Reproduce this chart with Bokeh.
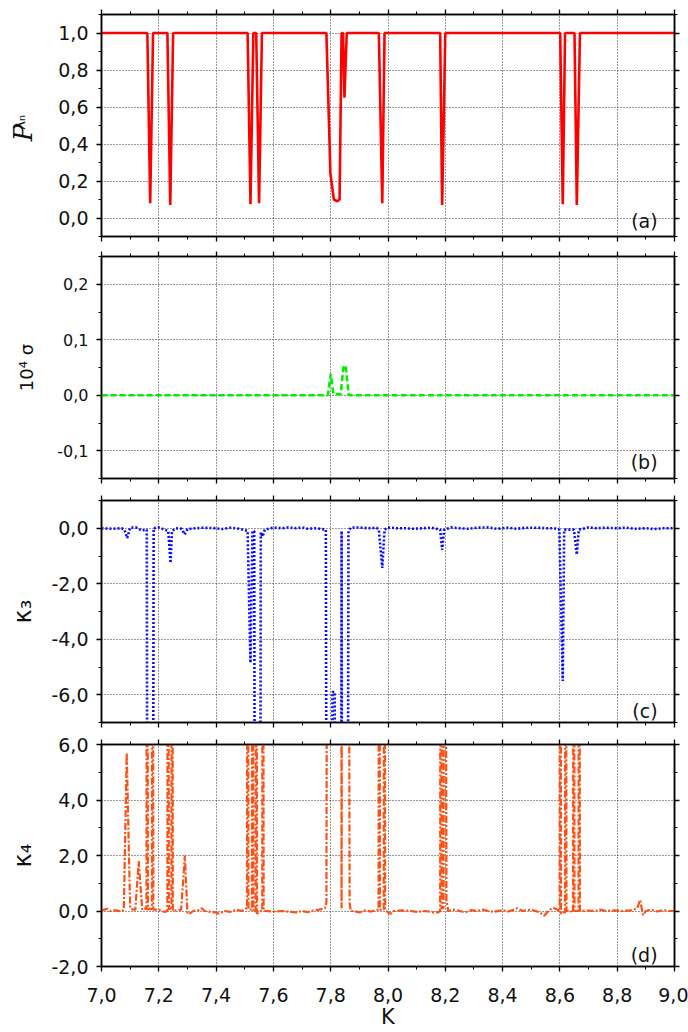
import numpy as np
from bokeh.plotting import figure
from bokeh.layouts import column
from bokeh.models import Range1d, LinearAxis, FixedTicker, CustomJSTickFormatter, Label
from bokeh.embed import file_html
from bokeh.resources import INLINE

# ---------------- data ----------------
x_major = [7.0, 7.2, 7.4, 7.6, 7.8, 8.0, 8.2, 8.4, 8.6, 8.8, 9.0]
x_minor = [7.1, 7.3, 7.5, 7.7, 7.9, 8.1, 8.3, 8.5, 8.7, 8.9]

# (a) participation P_lambda_n
k_p = [7.00, 7.16, 7.17, 7.18, 7.23, 7.24, 7.25, 7.51, 7.52, 7.53, 7.54, 7.55, 7.56,
       7.785, 7.799, 7.811, 7.823, 7.831, 7.838, 7.843, 7.848, 7.856,
       7.968, 7.98, 7.988, 8.182, 8.189, 8.20, 8.601, 8.61, 8.618, 8.651, 8.659, 8.67, 9.00]
p_val = [1.0, 1.0, 0.08, 1.0, 1.0, 0.07, 1.0, 1.0, 0.075, 1.0, 1.0, 0.08, 1.0,
         1.0, 0.24, 0.10, 0.09, 0.10, 1.0, 1.0, 0.65, 1.0,
         1.0, 0.08, 1.0, 1.0, 0.07, 1.0, 1.0, 0.075, 1.0, 1.0, 0.07, 1.0, 1.0]

# (b) 10^4 sigma
k_s = [7.00, 7.79, 7.80, 7.81, 7.835, 7.845, 7.852, 7.863, 9.00]
s_val = [0.0, 0.0, 0.038, 0.002, 0.002, 0.053, 0.053, 0.0, 0.0]

# (c) kappa_3
k_k3 = [7.00, 7.04, 7.07, 7.08, 7.09, 7.10, 7.12, 7.14, 7.158, 7.163, 7.177, 7.182,
        7.20, 7.233, 7.241, 7.246, 7.26, 7.28, 7.29, 7.30, 7.33, 7.35, 7.40, 7.42,
        7.45, 7.48, 7.51, 7.52, 7.527, 7.533, 7.538, 7.552, 7.556, 7.562, 7.57,
        7.60, 7.63, 7.65, 7.68, 7.70, 7.72, 7.75, 7.783, 7.789, 7.805, 7.806, 7.814,
        7.816, 7.835, 7.838, 7.842, 7.857, 7.862, 7.87, 7.90, 7.93, 7.96, 7.968,
        7.98, 7.988, 8.00, 8.03, 8.06, 8.09, 8.12, 8.15, 8.182, 8.189, 8.196, 8.22,
        8.25, 8.28, 8.31, 8.35, 8.38, 8.42, 8.45, 8.48, 8.52, 8.55, 8.58, 8.598,
        8.61, 8.615, 8.649, 8.659, 8.666, 8.70, 8.73, 8.76, 8.80, 8.83, 8.86, 8.90,
        8.93, 8.96, 9.00]
k3_val = [0.0, -0.02, 0.0, -0.05, -0.35, 0.02, 0.03, -0.08, -0.05, -30.0, -30.0, 0.0,
          0.03, -0.1, -1.25, -0.1, 0.0, -0.02, -0.22, -0.03, 0.0, 0.02, 0.0, -0.03,
          0.02, -0.02, -0.1, -4.85, -0.1, -0.1, -30.0, -30.0, -0.15, -0.3, -0.05,
          0.02, 0.0, 0.03, 0.0, 0.03, -0.02, 0.0, -0.05, -30.0, -30.0, -5.9, -5.9,
          -30.0, -30.0, -0.1, -30.0, -30.0, -0.1, 0.02, 0.03, 0.0, 0.02, -0.05,
          -1.43, -0.05, 0.03, 0.0, 0.0, -0.02, 0.0, 0.02, -0.05, -0.78, -0.05, 0.03,
          0.0, -0.02, 0.02, 0.03, -0.02, 0.02, -0.02, 0.02, 0.02, 0.0, 0.0, -0.05,
          -5.5, -0.05, -0.05, -0.95, -0.05, 0.03, 0.0, 0.02, 0.0, 0.02, -0.02, 0.0,
          -0.03, 0.0, 0.0]

# (d) kappa_4
k_k4 = [7.00, 7.01, 7.02, 7.03, 7.05, 7.07,
        7.078, 7.088, 7.10, 7.11,
        7.118, 7.13, 7.142, 7.15,
        7.157, 7.159, 7.162, 7.17, 7.176, 7.178, 7.181,
        7.20, 7.21, 7.22,
        7.230, 7.232, 7.235, 7.24, 7.244, 7.246, 7.249,
        7.26, 7.278, 7.291, 7.30, 7.31, 7.32,
        7.34, 7.35, 7.36, 7.38, 7.40, 7.41, 7.43, 7.45, 7.47, 7.49, 7.50,
        7.508, 7.510, 7.513, 7.520, 7.525, 7.527, 7.530, 7.535, 7.538, 7.540, 7.543,
        7.555, 7.561, 7.563, 7.566,
        7.57, 7.60, 7.63, 7.66, 7.68, 7.70, 7.72, 7.74, 7.76, 7.78,
        7.785, 7.79, 7.835, 7.838, 7.842, 7.86, 7.866, 7.87,
        7.88, 7.90, 7.92, 7.94, 7.96,
        7.967, 7.969, 7.972, 7.978, 7.985, 7.987, 7.990,
        8.00, 8.01, 8.02, 8.05, 8.08, 8.10, 8.13, 8.16, 8.175,
        8.182, 8.184, 8.187, 8.191, 8.194, 8.196, 8.199, 8.204, 8.21,
        8.23, 8.25, 8.27, 8.29, 8.31, 8.33, 8.35, 8.37, 8.40, 8.42, 8.44, 8.45,
        8.47, 8.50, 8.53, 8.545, 8.56, 8.575, 8.59,
        8.599, 8.601, 8.604, 8.61, 8.618, 8.620, 8.623, 8.635, 8.646, 8.648, 8.651,
        8.658, 8.665, 8.667, 8.670,
        8.69, 8.72, 8.74, 8.76, 8.79, 8.82, 8.85, 8.87, 8.88, 8.89, 8.90, 8.92,
        8.94, 8.96, 8.98, 9.00]
k4_val = [0.0, 0.05, 0.08, 0.0, 0.02, -0.02,
          0.05, 5.7, 0.1, 0.05,
          0.05, 1.8, 0.05, 0.1,
          0.05, 30.0, 0.05, 0.08, 0.05, 30.0, 0.05,
          0.05, 0.0, -0.03,
          0.0, 30.0, 0.05, 0.08, 0.05, 30.0, 0.0,
          0.02, 0.05, 2.0, -0.1, -0.08, 0.0,
          0.03, 0.1, 0.0, -0.03, -0.05, -0.1, 0.0, -0.03, 0.05, 0.0, 0.08,
          0.1, 30.0, 0.05, 0.05, 0.05, 30.0, 0.0, -0.05, 0.0, 30.0, -0.1,
          0.0, 0.0, 30.0, 0.0,
          0.0, -0.02, 0.0, -0.03, -0.05, 0.0, -0.04, 0.02, 0.05, 0.1,
          0.3, 30.0, 30.0, 0.1, 30.0, 30.0, 0.3, 0.0,
          0.0, -0.05, 0.02, -0.02, 0.03,
          0.05, 30.0, 0.05, 0.05, 0.05, 30.0, 0.05,
          -0.05, -0.1, 0.0, 0.02, 0.0, -0.03, 0.0, -0.05, -0.05,
          0.0, 30.0, 0.1, 0.1, 0.1, 30.0, 30.0, 0.4, 0.0,
          0.05, 0.0, -0.05, 0.03, 0.0, 0.05, 0.0, -0.03, 0.03, -0.02, 0.05, 0.1,
          0.0, 0.05, -0.05, -0.17, 0.0, 0.12, 0.05,
          0.0, 30.0, -0.1, -0.05, -0.05, 30.0, 0.0, 0.02, -0.05, 30.0, 0.0,
          0.0, 0.0, 30.0, 0.0,
          0.02, 0.0, 0.05, 0.0, 0.02, 0.0, 0.02, 0.1, 0.4, -0.15, 0.0, 0.05,
          -0.02, 0.03, 0.0, 0.0]

FONT = "DejaVu Sans"
FRAME_W = 573
FRAME_H = 222
BORDER_L = 101
BORDER_R = 14
TXT = "#111111"

fmt_code = """
if (Math.abs(tick) < 1e-9) { return "0,0"; }
return tick.toFixed(1).replace('.', ',');
"""


def style_axis(ax, ticks, minor, labels, font_size="19px"):
    ax.ticker = FixedTicker(ticks=ticks, minor_ticks=minor)
    ax.formatter = CustomJSTickFormatter(code=fmt_code)
    ax.axis_line_color = "black"
    ax.axis_line_width = 1.5
    ax.major_tick_line_color = "black"
    ax.major_tick_line_width = 1.3
    ax.minor_tick_line_color = "black"
    ax.minor_tick_line_width = 1.0
    ax.major_tick_in = 0
    ax.major_tick_out = 5
    ax.minor_tick_in = 0
    ax.minor_tick_out = 3
    if labels:
        ax.major_label_text_font = FONT
        ax.major_label_text_font_size = font_size
        ax.major_label_text_color = TXT
        ax.major_label_standoff = 8
    else:
        ax.major_label_text_font_size = "1px"
        ax.major_label_text_color = None
        ax.major_label_standoff = 0


def make_panel(yr, y_major, y_minor, top, bottom, xlabels=False, ytick_font="19px"):
    p = figure(x_range=Range1d(7.0, 9.0), y_range=Range1d(*yr),
               frame_width=FRAME_W, frame_height=FRAME_H,
               min_border_left=BORDER_L, min_border_right=BORDER_R,
               min_border_top=top, min_border_bottom=bottom,
               output_backend="svg", toolbar_location=None)
    p.outline_line_color = "black"
    p.outline_line_width = 1.5
    p.background_fill_color = "white"
    p.border_fill_color = "white"
    bottom_ax = p.below[0]
    left_ax = p.left[0]
    style_axis(bottom_ax, x_major, x_minor, xlabels)
    style_axis(left_ax, y_major, y_minor, True, ytick_font)
    top_ax = LinearAxis()
    style_axis(top_ax, x_major, x_minor, False)
    p.add_layout(top_ax, "above")
    right_ax = LinearAxis()
    style_axis(right_ax, y_major, y_minor, False)
    p.add_layout(right_ax, "right")
    p.xgrid.ticker = FixedTicker(ticks=x_major)
    p.ygrid.ticker = FixedTicker(ticks=y_major)
    for g in (p.xgrid, p.ygrid):
        g.grid_line_color = "#333333"
        g.grid_line_dash = "1 2"
        g.grid_line_width = 1
    left_ax.axis_label_text_font = FONT
    left_ax.axis_label_text_font_style = "normal"
    left_ax.axis_label_text_color = TXT
    return p, bottom_ax, left_ax


# (a)
pa, _, _ = make_panel((-0.1, 1.1), [0.0, 0.2, 0.4, 0.6, 0.8, 1.0],
                      [-0.1, 0.1, 0.3, 0.5, 0.7, 0.9, 1.1], 14, 10)
pa.line(k_p, p_val, line_color="#ff0000", line_width=2.6)
pa.add_layout(Label(x=8.941, y=-0.016, text="(a)", text_align="right", text_baseline="middle",
                    text_font=FONT, text_font_size="19px", text_color=TXT))
pa.add_layout(Label(x=-3, y=104, x_units="screen", y_units="screen", text="P",
                    angle=np.pi / 2, text_align="center", text_baseline="alphabetic",
                    text_font="DejaVu Serif", text_font_style="italic",
                    text_font_size="26px", text_color=TXT), "left")
pa.add_layout(Label(x=12, y=114, x_units="screen", y_units="screen", text="λₙ",
                    angle=np.pi / 2, text_align="center", text_baseline="alphabetic",
                    text_font=FONT, text_font_size="15px", text_color=TXT), "left")

# (b)
pb, _, lb = make_panel((-0.15, 0.25), [-0.1, 0.0, 0.1, 0.2],
                       [-0.15, -0.05, 0.05, 0.15, 0.25], 10, 11, ytick_font="16px")
pb.line(k_s, s_val, line_color="#00ee00", line_width=2.6, line_dash="6 3")
lb.axis_label = "10⁴ σ"
lb.axis_label_text_font_size = "18px"
lb.axis_label_standoff = 17
pb.add_layout(Label(x=8.941, y=-0.121, text="(b)", text_align="right", text_baseline="middle",
                    text_font=FONT, text_font_size="19px", text_color=TXT))

# (c)
pc, _, lc = make_panel((-7.0, 1.0), [-6.0, -4.0, -2.0, 0.0],
                       [-7.0, -5.0, -3.0, -1.0, 1.0], 11, 11)
pc.line(k_k3, k3_val, line_color="#0a0aff", line_width=2.6, line_dash="2 2")
lc.axis_label = "κ₃"
lc.axis_label_text_font_size = "24px"
lc.axis_label_standoff = 11
pc.add_layout(Label(x=8.941, y=-6.57, text="(c)", text_align="right", text_baseline="middle",
                    text_font=FONT, text_font_size="19px", text_color=TXT))

# (d)
pd_, bd, ld = make_panel((-2.0, 6.0), [-2.0, 0.0, 2.0, 4.0, 6.0],
                         [-1.0, 1.0, 3.0, 5.0], 11, 66, xlabels=True)
pd_.line(k_k4, k4_val, line_color="#ff5015", line_width=2.2, line_dash="7 2 2 2")
ld.axis_label = "κ₄"
ld.axis_label_text_font_size = "24px"
ld.axis_label_standoff = 11
bd.axis_label = "K"
bd.axis_label_text_font = FONT
bd.axis_label_text_font_style = "normal"
bd.axis_label_text_font_size = "21px"
bd.axis_label_text_color = TXT
bd.axis_label_standoff = 0
bd.major_label_standoff = 16
pd_.add_layout(Label(x=8.941, y=-1.6, text="(d)", text_align="right", text_baseline="middle",
                     text_font=FONT, text_font_size="19px", text_color=TXT))

layout = column(pa, pb, pc, pd_, spacing=0)
open("out.html", "w").write(file_html(layout, INLINE))
